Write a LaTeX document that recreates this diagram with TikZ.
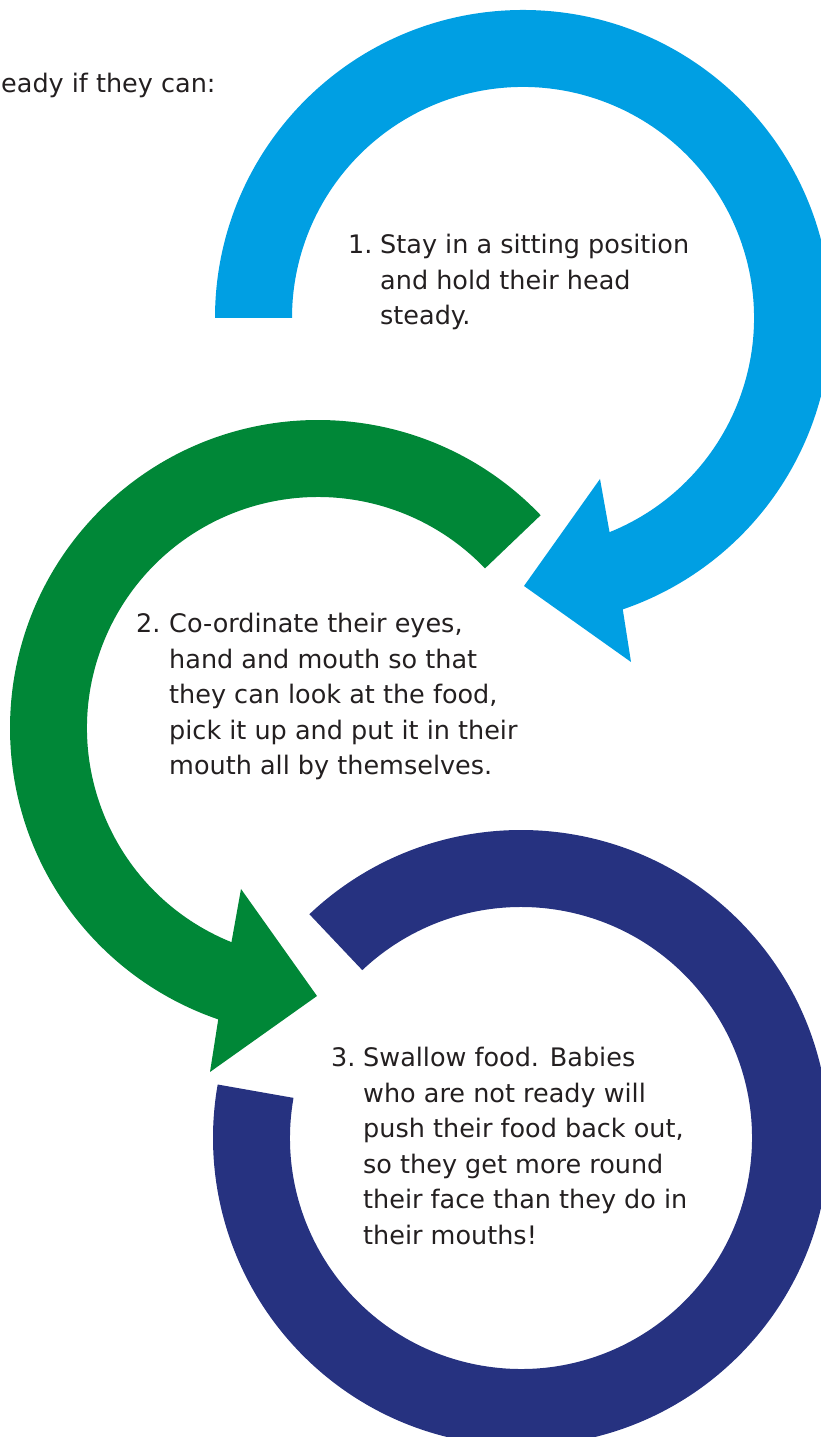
\documentclass[tikz,border=0pt]{standalone}
\usepackage{fontspec}
\setmainfont{DejaVu Sans}
\usetikzlibrary{positioning}
\definecolor{ringblue}{RGB}{0,159,227}
\definecolor{ringgreen}{RGB}{0,135,55}
\definecolor{ringnavy}{RGB}{38,50,128}
\definecolor{txtgray}{RGB}{35,31,32}
\newcommand{\steplines}[1]{\begin{tabular}[t]{@{}l@{}}#1\end{tabular}}
\begin{document}
\begin{tikzpicture}
  [x=1pt,y=1pt,
   every node/.style={inner sep=0pt,text=txtgray,font=\fontsize{25.5}{35.5}\selectfont},
   num/.style={anchor=base west},
   steptext/.style={anchor=base west}]
  \useasboundingbox (0,0) rectangle (821,1437);
  \clip (0,0) rectangle (821,1437);

  % blue ring, arrow at the bottom
  \begin{scope}[shift={(523,1119)}]
    \fill[ringblue] (180:308) arc[start angle=180,end angle=-71.1,radius=308]
      -- (108,-344) -- (1,-268) -- (77,-161)
      -- (-68:231) arc[start angle=-68,end angle=180,radius=231] -- cycle;
  \end{scope}
  % green ring
  \begin{scope}[shift={(318,709)}]
    \fill[ringgreen] (43.7:308) arc[start angle=43.7,end angle=251.1,radius=308]
      -- (-108,-344) -- (-1,-268) -- (-77,-161)
      -- (248:231) arc[start angle=248,end angle=43.7,radius=231] -- cycle;
  \end{scope}
  % navy ring
  \begin{scope}[shift={(521,299)}]
    \fill[ringnavy] (133.4:308) arc[start angle=133.4,end angle=-190,radius=308]
      -- (-190:231) arc[start angle=-190,end angle=133.4,radius=231] -- cycle;
  \end{scope}

  \node (intro) [num] at (1,1344) {eady if they can:};

  \node (n1) [num] at (348,1183) {1.};
  \node (s1) [steptext] at (380,1183) {\steplines{Stay in a sitting position\\and hold their head\\steady.}};

  \node (n2) [num] at (136,804) {2.};
  \node (s2) [steptext] at (169,804) {\steplines{Co-ordinate their eyes,\\hand and mouth so that\\they can look at the food,\\pick it up and put it in their\\mouth all by themselves.}};

  \node (n3) [num] at (331,370) {3.};
  \node (s3) [steptext] at (363,370) {\steplines{Swallow food. Babies\\who are not ready will\\push their food back out,\\so they get more round\\their face than they do in\\their mouths!}};
\end{tikzpicture}
\end{document}
